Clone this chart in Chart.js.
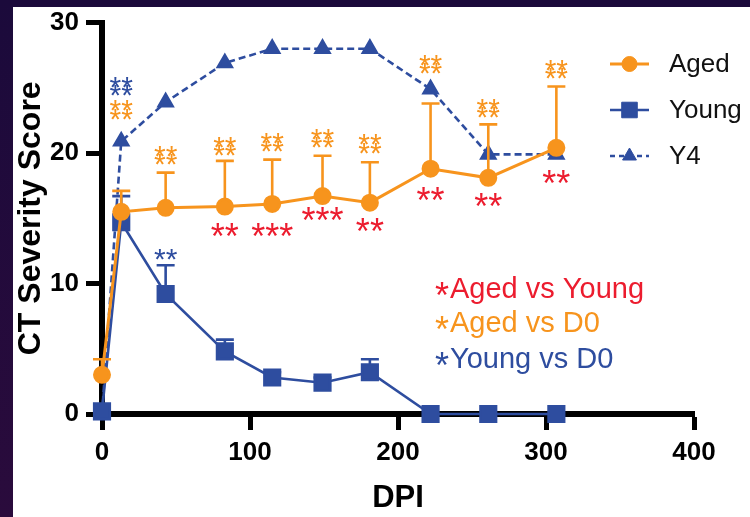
<!DOCTYPE html>
<html>
<head>
<meta charset="utf-8">
<script src="https://cdn.jsdelivr.net/npm/chart.js@4.4.1/dist/chart.umd.min.js"></script>
<style>
  html, body { margin: 0; padding: 0; background: #1c0a3c; }
  #wrap { width: 750px; height: 517px; }
</style>
</head>
<body>
<div id="wrap"><canvas id="ct-chart" width="750" height="517"></canvas></div>
<script>
// Days post infection (x values)
const dpi = [0, 13, 43, 83, 115, 149, 181, 222, 261, 307];

// Aged group: mean and upper error (SEM)
const agedMean = [3.0, 15.5, 15.8, 15.9, 16.1, 16.7, 16.2, 18.8, 18.1, 20.4];
const agedErr = [1.2, 1.6, 2.7, 3.5, 3.4, 3.1, 3.1, 5.0, 4.1, 4.7];

// Young group: mean and upper error
const youngMean = [0.2, 14.7, 9.2, 4.8, 2.8, 2.4, 3.2, 0, 0, 0];
const youngErr = [0.4, 2.0, 2.2, 0.9, 0.4, 0.4, 1.0, 0, 0, 0];

// Y4 individual animal
const y4Values = [0, 20.9, 23.9, 26.9, 28.0, 28.0, 28.0, 24.9, 19.9, 19.9];

// Significance marks and the score where each is written
const agedVsYoung = ['', '', '', '**', '***', '***', '**', '**', '**', '**'];
const agedVsYoungAt = [null, null, null, 14.1, 14.1, 15.3, 14.5, 16.9, 16.4, 18.2];
const agedVsD0 = ['', '****', '****', '****', '****', '****', '****', '****', '****', '****'];
const agedVsD0At = [null, 23.3, 19.8, 20.5, 20.8, 21.1, 20.7, 26.8, 23.4, 26.4];
const youngVsD0 = ['', '****', '**', '', '', '', '', '', '', ''];
const youngVsD0At = [null, 25.1, 12.2, null, null, null, null, null, null, null];

// Axis ticks
const xTicks = [0, 100, 200, 300, 400];
const yTicks = [0, 10, 20, 30];

const ORANGE = '#f7941d';
const BLUE = '#2e4d9f';
const RED = '#ec1c2e';
const FONT = '"Liberation Sans", Arial, Helvetica, sans-serif';

const errorSets = [agedErr, youngErr, null];

function toPoints(values) {
    return dpi.map((d, i) => ({ x: d, y: values[i] }));
}

// Background: dark slide frame with white panel
const backgroundPlugin = {
    id: 'background',
    beforeDraw(chart) {
        const ctx = chart.ctx;
        ctx.save();
        const g = ctx.createLinearGradient(0, 0, 0, chart.height);
        g.addColorStop(0, '#1b0a3b');
        g.addColorStop(1, '#2a0b3c');
        ctx.fillStyle = g;
        ctx.fillRect(0, 0, chart.width, chart.height);
        ctx.fillStyle = '#ffffff';
        ctx.fillRect(13, 7, chart.width - 13, chart.height - 7);
        ctx.restore();
    }
};

// Upper-only error bars, drawn just beneath each dataset
const errorBarPlugin = {
    id: 'errorBars',
    beforeDatasetDraw(chart, args) {
        const errs = errorSets[args.index];
        if (!errs) return;
        const ds = chart.data.datasets[args.index];
        const xs = chart.scales.x;
        const ys = chart.scales.y;
        const ctx = chart.ctx;
        ctx.save();
        ctx.strokeStyle = ds.borderColor;
        ctx.lineWidth = 2.6;
        ds.data.forEach((p, i) => {
            if (!errs[i]) return;
            const px = xs.getPixelForValue(p.x);
            const py = ys.getPixelForValue(p.y);
            const top = ys.getPixelForValue(p.y + errs[i]);
            ctx.beginPath();
            ctx.moveTo(px, py);
            ctx.lineTo(px, top);
            ctx.moveTo(px - 9, top);
            ctx.lineTo(px + 9, top);
            ctx.stroke();
        });
        ctx.restore();
    }
};

function drawStar(ctx, text, x, yc, size) {
    ctx.font = size + 'px ' + FONT;
    const m = ctx.measureText('*');
    const shift = (m.actualBoundingBoxAscent - m.actualBoundingBoxDescent) / 2;
    ctx.fillText(text, x, yc + shift);
}

// Significance asterisks and the key in the lower right
const starsPlugin = {
    id: 'stars',
    afterDatasetsDraw(chart) {
        const ctx = chart.ctx;
        const xs = chart.scales.x;
        const ys = chart.scales.y;
        ctx.save();
        ctx.textAlign = 'center';
        ctx.textBaseline = 'alphabetic';

        const stacked = [
            { marks: agedVsD0, at: agedVsD0At, color: ORANGE },
            { marks: youngVsD0, at: youngVsD0At, color: BLUE }
        ];
        stacked.forEach(set => {
            ctx.fillStyle = set.color;
            set.marks.forEach((mark, i) => {
                if (!mark) return;
                const x = xs.getPixelForValue(dpi[i]);
                const yc = ys.getPixelForValue(set.at[i]);
                const rows = [];
                for (let k = 0; k < mark.length; k += 2) rows.push(mark.slice(k, k + 2));
                const gap = 8.5;
                rows.forEach((row, r) => {
                    const off = (r - (rows.length - 1) / 2) * gap;
                    drawStar(ctx, row, x, yc + off, 30);
                });
            });
        });

        ctx.fillStyle = RED;
        agedVsYoung.forEach((mark, i) => {
            if (!mark) return;
            const x = xs.getPixelForValue(dpi[i]);
            const yc = ys.getPixelForValue(agedVsYoungAt[i]);
            drawStar(ctx, mark, x, yc, 36);
        });

        // Key for the asterisk colours
        const key = [
            { text: 'Aged vs Young', color: RED, y: 298 },
            { text: 'Aged vs D0', color: ORANGE, y: 332 },
            { text: 'Young vs D0', color: BLUE, y: 368 }
        ];
        key.forEach(k => {
            ctx.fillStyle = k.color;
            ctx.textAlign = 'center';
            drawStar(ctx, '*', 442, k.y - 9, 36);
            ctx.textAlign = 'left';
            ctx.font = '29px ' + FONT;
            ctx.fillText(k.text, 450, k.y);
        });
        ctx.restore();
    }
};

// Series legend in the top right
const legendPlugin = {
    id: 'seriesLegend',
    afterDraw(chart) {
        const ctx = chart.ctx;
        const rowsY = [64, 110, 156];
        ctx.save();
        chart.data.datasets.forEach((ds, i) => {
            const y = rowsY[i];
            ctx.strokeStyle = ds.borderColor;
            ctx.lineWidth = ds.borderWidth;
            ctx.setLineDash(ds.borderDash ? [5, 4] : []);
            ctx.beginPath();
            ctx.moveTo(610, y);
            ctx.lineTo(649, y);
            ctx.stroke();
            ctx.setLineDash([]);
            ctx.fillStyle = ds.pointBackgroundColor;
            ctx.strokeStyle = ds.pointBackgroundColor;
            ctx.lineWidth = 1;
            Chart.helpers.drawPoint(ctx, {
                pointStyle: ds.pointStyle,
                radius: ds.pointRadius,
                borderWidth: 1
            }, 629.5, y);
            ctx.fillStyle = '#111';
            ctx.font = '26px ' + FONT;
            ctx.textAlign = 'left';
            ctx.textBaseline = 'middle';
            ctx.fillText(ds.label, 669, y + 1);
        });
        ctx.restore();
    }
};

function initializeChart() {
    const ctx = document.getElementById('ct-chart').getContext('2d');
    const axisGrid = {
        display: true,
        drawOnChartArea: false,
        drawTicks: true,
        tickLength: 16,
        tickWidth: 5,
        tickColor: '#000'
    };
    const axisBorder = { display: true, width: 6, color: '#000' };

    return new Chart(ctx, {
        type: 'line',
        data: {
            datasets: [{
                label: 'Aged',
                data: toPoints(agedMean),
                borderColor: ORANGE,
                backgroundColor: ORANGE,
                pointBackgroundColor: ORANGE,
                pointBorderColor: ORANGE,
                borderWidth: 3,
                pointStyle: 'circle',
                pointRadius: 7.5,
                clip: false
            }, {
                label: 'Young',
                data: toPoints(youngMean),
                borderColor: BLUE,
                backgroundColor: BLUE,
                pointBackgroundColor: BLUE,
                pointBorderColor: BLUE,
                borderWidth: 2.6,
                pointStyle: 'rect',
                pointRadius: 11,
                clip: false
            }, {
                label: 'Y4',
                data: toPoints(y4Values),
                borderColor: BLUE,
                backgroundColor: BLUE,
                pointBackgroundColor: BLUE,
                pointBorderColor: BLUE,
                borderWidth: 2.6,
                borderDash: [7, 4],
                pointStyle: 'triangle',
                pointRadius: 8,
                clip: false
            }]
        },
        options: {
            responsive: false,
            animation: false,
            layout: { padding: { left: 0, top: 21, right: 56, bottom: 0 } },
            plugins: {
                legend: { display: false },
                tooltip: { enabled: false }
            },
            scales: {
                x: {
                    type: 'linear',
                    min: 0,
                    max: 400,
                    afterBuildTicks: scale => { scale.ticks = xTicks.map(v => ({ value: v })); },
                    afterFit: scale => { scale.height = 103; },
                    ticks: {
                        color: '#000',
                        padding: 7,
                        font: { family: FONT, size: 26, weight: 'bold' }
                    },
                    grid: axisGrid,
                    border: axisBorder,
                    title: {
                        display: true,
                        text: 'DPI',
                        color: '#000',
                        padding: { top: 0, bottom: 0 },
                        font: { family: FONT, size: 31, weight: 'bold' }
                    }
                },
                y: {
                    min: 0,
                    max: 30,
                    afterBuildTicks: scale => { scale.ticks = yTicks.map(v => ({ value: v })); },
                    afterFit: scale => { scale.width = 102; },
                    ticks: {
                        color: '#000',
                        padding: 7,
                        font: { family: FONT, size: 26, weight: 'bold' }
                    },
                    grid: axisGrid,
                    border: axisBorder,
                    title: {
                        display: true,
                        text: 'CT Severity Score',
                        color: '#000',
                        padding: { top: 12, bottom: 0 },
                        font: { family: FONT, size: 32, weight: 'bold' }
                    }
                }
            }
        },
        plugins: [backgroundPlugin, errorBarPlugin, starsPlugin, legendPlugin]
    });
}

document.addEventListener('DOMContentLoaded', initializeChart);
</script>
</body>
</html>
